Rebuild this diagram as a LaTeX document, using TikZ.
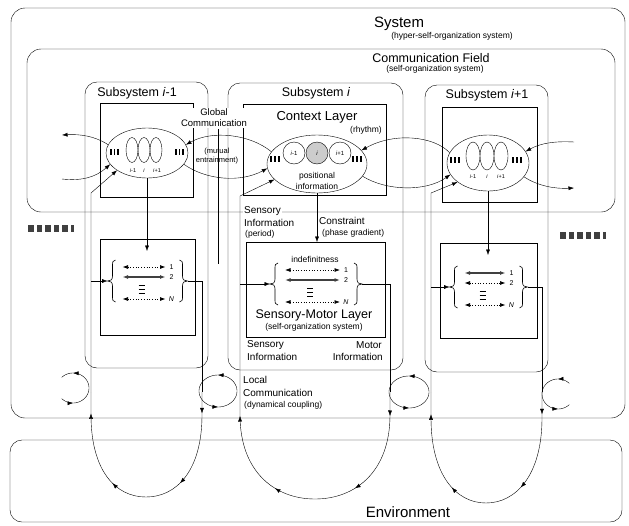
\documentclass[tikz,border=0pt]{standalone}
\usepackage{fontspec}
\setmainfont{Liberation Sans}
\usetikzlibrary{arrows.meta,shapes.geometric,decorations.markings}

\tikzset{
  frame/.style={draw, rounded corners=14pt},
  ctx/.style={draw, ellipse, inner sep=0pt},
  osc/.style={draw, ellipse, inner sep=0pt, minimum width=12pt},
  phase/.style={draw, circle, inner sep=0pt, minimum size=22pt, font=\fontsize{6}{6}\selectfont},
  lbl/.style={inner sep=1pt, fill=white},
  txtXL/.style={font=\fontsize{15}{16}\selectfont},
  txtL/.style={font=\fontsize{12.5}{14}\selectfont},
  txtM/.style={font=\fontsize{10}{11}\selectfont},
  txtS/.style={font=\fontsize{8.5}{9}\selectfont},
  txtXS/.style={font=\fontsize{5.5}{6}\selectfont, inner sep=0pt},
  rowsolid/.style={<->, line width=1.2pt, black!75},
  rowdot/.style={<->, dotted, line width=0.7pt},
  umarks/.style={postaction={decorate}, decoration={markings,
      mark=at position 0.08 with {\arrow{>}}, mark=at position 0.36 with {\arrow{>}},
      mark=at position 0.64 with {\arrow{>}}, mark=at position 0.92 with {\arrow{>}}}},
  ringmarks/.style 2 args={postaction={decorate}, decoration={markings,
      mark=at position #1 with {\arrow{>}}, mark=at position #2 with {\arrow{>}}}},
}

\begin{document}
\begin{tikzpicture}[x=1pt, y=-1pt, >={Latex[length=5.5pt,width=4pt]}]
\useasboundingbox (0,0) rectangle (629,525);

\draw[frame] (11,8) rectangle (625,418);
\node[txtXL] (sys) at (399,24) {System};
\node[txtS] (sysnote) at (452,36) {(hyper-self-organization system)};
\draw[frame] (27,49) rectangle (615,212);
\node[txtL] (cf) at (431,58) {Communication Field};
\node[txtS] (cfnote) at (435,69) {(self-organization system)};
\draw[frame, rounded corners=12pt] (10,440) rectangle (622,522);
\node[txtXL] (env) at (408,512) {Environment};

\draw[frame, rounded corners=12pt] (85,82) rectangle (208,368);
\draw[frame, rounded corners=12pt] (228,83) rectangle (403,370);
\draw[frame, rounded corners=12pt] (425,85) rectangle (548,372);
\node[txtL] (subA) at (137,93) {Subsystem \textit{i}-1};
\node[txtL] (subB) at (316,93) {Subsystem \textit{i}};
\node[txtL] (subC) at (487,95) {Subsystem \textit{i}+1};

\draw (100,103) rectangle (193,197);
\draw (243,104) rectangle (386,195);
\draw (442,107) rectangle (537,202);
\node[font=\fontsize{13}{14}\selectfont] (ctxlbl) at (317,117) {Context Layer};
\node[txtS] (rhythm) at (366,130) {(rhythm)};

\draw (100,239) rectangle (195,335);
\draw (246,242) rectangle (385,337);
\draw (440,243) rectangle (537,338);

\node[ctx, minimum width=82pt, minimum height=50pt] (ctxA) at (147,153) {};
\node[ctx, minimum width=100pt, minimum height=58pt] (ctxB) at (317,164) {};
\node[ctx, minimum width=82pt, minimum height=56pt] (ctxC) at (488,163) {};

\node[osc, minimum height=25pt] (oscA1) at (132,150) {};
\node[osc, minimum height=25pt] (oscA2) at (144,150) {};
\node[osc, minimum height=25pt] (oscA3) at (156,150) {};
\node[txtXS] (labA1) at (133,171) {\textit{i}-1};
\node[txtXS] (labA2) at (144,171) {\textit{i}};
\node[txtXS] (labA3) at (157,171) {\textit{i}+1};
\node[osc, minimum width=14pt, minimum height=28pt] (oscC1) at (473,156) {};
\node[osc, minimum width=14pt, minimum height=28pt] (oscC2) at (487,156) {};
\node[osc, minimum width=14pt, minimum height=28pt] (oscC3) at (501,156) {};
\node[txtXS] (labC1) at (473,177) {\textit{i}-1};
\node[txtXS] (labC2) at (487,177) {\textit{i}};
\node[txtXS] (labC3) at (501,177) {\textit{i}+1};
\node[phase] (phB1) at (294,153) {\textit{i}-1};
\node[phase, fill=black!20] (phB2) at (317,153) {\textit{i}};
\node[phase] (phB3) at (340,153) {\textit{i}+1};
\node[txtS] (posB) at (317,176) {positional};
\node[txtS] (infB) at (317,186) {information};

\foreach \t in {111,114.5,118,176,179.5,183}
  \draw[line width=1.3pt] (\t,149) -- (\t,155);
\foreach \t in {271,275,279,353,357,361}
  \draw[line width=1.3pt] (\t,156) -- (\t,162);
\foreach \t in {451,455,459,513,517,521}
  \draw[line width=1.3pt] (\t,157) -- (\t,163);

\foreach \n/\bx/\by/\hw/\ra/\rb in {A/147.5/281/40/rowdot/rowsolid, B/316/284/46/rowdot/rowsolid, C/488.5/287/39/rowsolid/rowdot}
{
  \draw[semithick] (\bx-\hw+8,\by-21) .. controls (\bx-\hw+5,\by-21) and (\bx-\hw+5,\by-19) .. (\bx-\hw+5,\by-14)
    -- (\bx-\hw+5,\by-5) .. controls (\bx-\hw+5,\by-1) and (\bx-\hw+3,\by) .. (\bx-\hw,\by)
    .. controls (\bx-\hw+3,\by) and (\bx-\hw+5,\by+1) .. (\bx-\hw+5,\by+5)
    -- (\bx-\hw+5,\by+14) .. controls (\bx-\hw+5,\by+19) and (\bx-\hw+5,\by+21) .. (\bx-\hw+8,\by+21);
  \draw[semithick] (\bx+\hw-8,\by-21) .. controls (\bx+\hw-5,\by-21) and (\bx+\hw-5,\by-19) .. (\bx+\hw-5,\by-14)
    -- (\bx+\hw-5,\by-5) .. controls (\bx+\hw-5,\by-1) and (\bx+\hw-3,\by) .. (\bx+\hw,\by)
    .. controls (\bx+\hw-3,\by) and (\bx+\hw-5,\by+1) .. (\bx+\hw-5,\by+5)
    -- (\bx+\hw-5,\by+14) .. controls (\bx+\hw-5,\by+19) and (\bx+\hw-5,\by+21) .. (\bx+\hw-8,\by+21);
  \draw[\ra] (\bx-\hw+15,\by-14) -- (\bx+\hw-22,\by-14);
  \draw[\rb] (\bx-\hw+15,\by-4) -- (\bx+\hw-22,\by-4);
  \draw[rowdot] (\bx-\hw+15,\by+18) -- (\bx+\hw-22,\by+18);
  \foreach \d in {4,8,12}
    \draw[line width=1pt] (\bx-9,\by+\d) -- (\bx-3,\by+\d);
  \node[font=\fontsize{7}{7}\selectfont, inner sep=0pt] (one\n) at (\bx+\hw-16,\by-14) {1};
  \node[font=\fontsize{7}{7}\selectfont, inner sep=0pt] (two\n) at (\bx+\hw-16,\by-4) {2};
  \node[font=\fontsize{7}{7}\selectfont, inner sep=0pt] (last\n) at (\bx+\hw-16,\by+18) {\textit{N}};
  \coordinate (brL\n) at (\bx-\hw,\by);
  \coordinate (brR\n) at (\bx+\hw,\by);
}

\draw[->] (ctxB.165) .. controls (250,134) and (212,130) .. (ctxA.12);
\draw[->] (ctxA.-17) .. controls (206,180) and (240,183) .. (ctxB.185);
\draw[->] (ctxC.165) .. controls (434,136) and (394,132) .. (ctxB.17);
\draw[->] (ctxB.-15) .. controls (386,191) and (426,192) .. (ctxC.197);
\coordinate (farAt) at (62,135);
\coordinate (farAb) at (62,179);
\coordinate (farCt) at (574,142);
\coordinate (farCb) at (574,188);
\draw[->] (ctxA.168) .. controls (95,136) and (80,134) .. (farAt);
\draw[->] (farAb) .. controls (80,181) and (95,178) .. (ctxA.197);
\draw[->] (farCt) .. controls (555,141) and (541,143) .. (ctxC.17);
\draw[->] (ctxC.-21) .. controls (538,186) and (555,189) .. (farCb);

\coordinate (globA) at (218,129);
\coordinate (globB) at (218,264);
\draw (globA) -- (globB);

\coordinate (armAt) at (91,193);
\coordinate (armAm) at (91,281);
\coordinate (armAb) at (91,392);
\coordinate (motAb) at (202,392);
\coordinate (cnA) at (147,251);
\draw[->] (armAb) -- (armAt) -- (ctxA.210);
\draw[->] (armAm) -- (brLA);
\draw (brRA) -| (motAb);
\draw[->] (ctxA.south) -- (cnA);
\draw[umarks] (motAb) -- (202,415) .. controls (202,470) and (177,497) .. (146,497) .. controls (115,497) and (91,470) .. (91,415) -- (armAb);

\coordinate (armBt) at (240,196);
\coordinate (armBm) at (240,284);
\coordinate (armBb) at (240,392);
\coordinate (motBb) at (390,392);
\coordinate (cnB) at (317,242);
\draw[->] (armBb) -- (armBt) -- (ctxB.200);
\draw[->] (armBm) -- (brLB);
\draw (brRB) -| (motBb);
\draw[->] (ctxB.south) -- (cnB);
\draw[umarks] (motBb) -- (390,415) .. controls (390,472) and (355,499) .. (315,499) .. controls (275,499) and (240,472) .. (240,415) -- (armBb);

\coordinate (armCt) at (431,193);
\coordinate (armCm) at (431,287);
\coordinate (armCb) at (431,392);
\coordinate (motCb) at (542,392);
\coordinate (cnC) at (488,255);
\draw[->] (armCb) -- (armCt) -- (ctxC.212);
\draw[->] (armCm) -- (brLC);
\draw (brRC) -| (motCb);
\draw[->] (ctxC.south) -- (cnC);
\draw[umarks] (motCb) -- (542,418) .. controls (542,475) and (516,503) .. (486,503) .. controls (456,503) and (431,475) .. (431,418) -- (armCb);

\draw[ringmarks={0.25}{0.75}] plot[domain=0:360, samples=73] ({218+19*cos(\x)},{391-16*sin(\x)});
\draw[ringmarks={0.25}{0.75}] plot[domain=0:360, samples=73] ({409+20*cos(\x)},{392-16*sin(\x)});
\draw[ringmarks={0.17}{0.83}] plot[domain=-135:135, samples=55] ({73+16*cos(\x)},{388-15*sin(\x)});
\draw[ringmarks={0.17}{0.83}] plot[domain=45:315, samples=55] ({558+16*cos(\x)},{394-15*sin(\x)});

\foreach \k in {0,...,4}
{
  \fill[black!75] (28+\k*8.5,225) rectangle ++(5.5,7);
  \fill[black!75] (560+\k*8.5,232) rectangle ++(5.5,7);
}
\fill[black!75] (70.5,225) rectangle ++(3,7);
\fill[black!75] (602.5,232) rectangle ++(3,7);

\node[lbl, align=center, font=\fontsize{9.5}{11}\selectfont] (glob) at (214,118) {Global\\Communication};
\node[align=center, font=\fontsize{7.5}{8.5}\selectfont, inner sep=0pt] (mutual) at (217,156) {(mutual\\entrainment)};
\node[txtM, lbl, anchor=west] (sensB) at (243,211) {Sensory};
\node[txtM, anchor=west, inner sep=1pt] (sensB2) at (243,223) {Information};
\node[txtS, anchor=west, inner sep=1pt] (period) at (244,234) {(period)};
\node[txtM, anchor=west, inner sep=1pt] (cons) at (318,221) {Constraint};
\node[txtS, anchor=west, inner sep=1pt] (phase) at (321,233) {(phase gradient)};
\node[txtS] (indef) at (315,259) {indefinitness};
\node[txtL] (smB) at (314,315) {Sensory-Motor Layer};
\node[txtS] (smnote) at (314,327) {(self-organization system)};
\node[txtM, anchor=west, inner sep=1pt] (sensB3) at (246,345) {Sensory};
\node[txtM, anchor=west, inner sep=1pt] (sensB4) at (246,357) {Information};
\node[txtM, anchor=east, inner sep=1pt] (motB) at (383,345) {Motor};
\node[txtM, anchor=east, inner sep=1pt] (motB2) at (384,357) {Information};
\node[txtM, anchor=west, inner sep=1pt] (loc) at (242,380) {Local};
\node[txtM, anchor=west, inner sep=1pt] (loc2) at (242,393) {Communication};
\node[txtS, anchor=west, inner sep=1pt] (loc3) at (243,405) {(dynamical coupling)};
\end{tikzpicture}
\end{document}
